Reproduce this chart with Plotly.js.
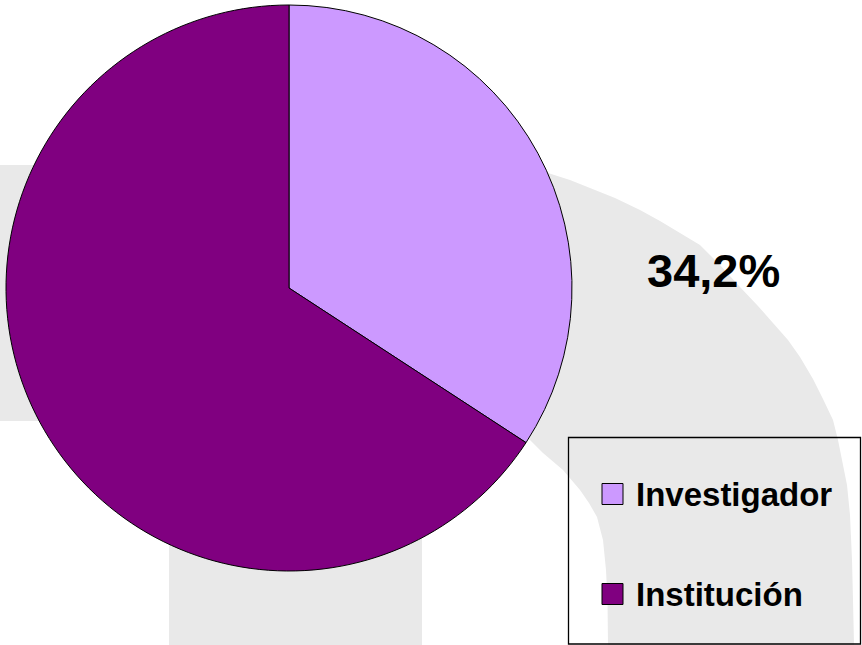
<!DOCTYPE html>
<html>
<head>
<meta charset="utf-8">
<script src="https://cdn.plot.ly/plotly-3.0.1.min.js"></script>
<style>html,body{margin:0;padding:0;background:#fff;}#chart{width:862px;height:645px;}</style>
</head>
<body>
<div id="chart"></div>
<script>
// ---- data ----
const labels = ['Investigador', 'Institución'];
const values = [34.2, 65.8];
const colors = ['#CC99FF', '#800080'];
const shownLabelIndex = 0; // the value written beside the chart

// ---- helpers (pixel -> paper) ----
const W = 862, H = 645;
const px = x => x / W;
const py = y => 1 - y / H;
function pathFrom(points) {
  return points.map((p, i) => (i ? 'L' : 'M') + px(p[0]).toFixed(5) + ',' + py(p[1]).toFixed(5)).join(' ') + ' Z';
}
const wm = '#e9e9e9';

// watermark shapes
const arcPts = [
  [420, 120], [500, 150], [548, 173], [570, 180], [590, 188], [615, 198], [640, 210], [660, 221], [680, 233], [700, 245],
  [720, 265], [740, 287], [758, 306], [773, 323], [788, 340], [800, 357], [813, 379], [823, 399], [833, 420], [838, 440],
  [842, 460], [847, 485], [850, 515], [852, 560], [853, 600], [854, 645],
  [608, 645], [607.5, 600], [606, 570], [603, 540], [597, 517], [589, 503], [580, 490], [563, 470], [543, 453],
  [527, 437], [480, 410], [420, 390]
];

const shapes = [
  {type: 'rect', xref: 'paper', yref: 'paper', x0: px(0), x1: px(300), y0: py(421), y1: py(165),
   fillcolor: wm, line: {width: 0}, layer: 'below'},
  {type: 'rect', xref: 'paper', yref: 'paper', x0: px(169), x1: px(422), y0: py(645), y1: py(420),
   fillcolor: wm, line: {width: 0}, layer: 'below'},
  {type: 'path', xref: 'paper', yref: 'paper', path: pathFrom(arcPts),
   fillcolor: wm, line: {width: 0}, layer: 'below'},
  // legend frame
  {type: 'rect', xref: 'paper', yref: 'paper', x0: px(568.5), x1: px(860.5), y0: py(644), y1: py(437.5),
   fillcolor: 'rgba(0,0,0,0)', line: {color: '#000', width: 1.3}, layer: 'above'}
];

// legend swatches + labels
const legendRows = [494, 594];
const annotations = [];
labels.forEach((lab, i) => {
  const cy = legendRows[i];
  shapes.push({type: 'rect', xref: 'paper', yref: 'paper', x0: px(602), x1: px(623), y0: py(cy + 10.5), y1: py(cy - 10.5),
    fillcolor: colors[i], line: {color: '#000', width: 1}, layer: 'above'});
  annotations.push({xref: 'paper', yref: 'paper', x: px(634), y: py(cy), xanchor: 'left', yanchor: 'middle',
    text: '<b>' + lab + '</b>', showarrow: false,
    font: {family: 'Liberation Sans, Arial, sans-serif', size: 33, color: '#000'}});
});

annotations.push({xref: 'paper', yref: 'paper', x: px(713), y: py(270), xanchor: 'center', yanchor: 'middle',
  text: '<b>' + values[shownLabelIndex].toFixed(1).replace('.', ',') + '%</b>', showarrow: false,
  font: {family: 'Liberation Sans, Arial, sans-serif', size: 47, color: '#000'}});

const trace = {
  type: 'pie',
  labels: labels,
  values: values,
  marker: {colors: colors, line: {color: '#000', width: 1}},
  sort: false,
  direction: 'clockwise',
  rotation: 0,
  textinfo: 'none',
  hoverinfo: 'label+percent',
  showlegend: false,
  domain: {x: [px(6), px(572)], y: [py(571), py(5)]}
};

const layout = {
  width: W, height: H,
  margin: {l: 0, r: 0, t: 0, b: 0},
  paper_bgcolor: '#fff',
  plot_bgcolor: '#fff',
  showlegend: false,
  shapes: shapes,
  annotations: annotations,
  font: {family: 'Liberation Sans, Arial, sans-serif'}
};

Plotly.newPlot('chart', [trace], layout, {displayModeBar: false, staticPlot: true});
</script>
</body>
</html>
